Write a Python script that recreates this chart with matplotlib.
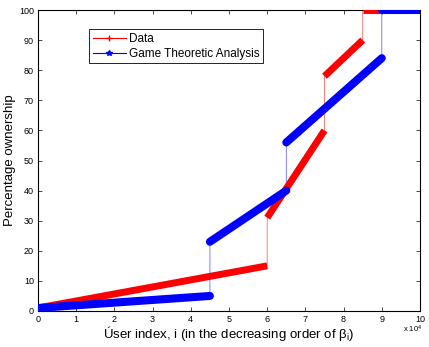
import matplotlib
matplotlib.use("Agg")
import matplotlib.pyplot as plt

plt.rcParams['font.family'] = ['Liberation Sans', 'DejaVu Sans']
plt.rcParams['mathtext.fontset'] = 'custom'
plt.rcParams['mathtext.rm'] = 'Liberation Sans'
plt.rcParams['mathtext.it'] = 'Liberation Sans'

# breakpoints of the piecewise-linear curves (x = user index, y = % ownership)
data_x = [0, 60000, 60000, 75000, 75000, 85000, 85000, 100000]
data_y = [1, 15, 31, 60, 78, 90, 100, 100]

game_x = [0, 45000, 45000, 65000, 65000, 90000, 90000, 100000]
game_y = [1, 5, 23, 40, 56, 84, 100, 100]

x_ticks = [0, 1, 2, 3, 4, 5, 6, 7, 8, 9, 10]
y_ticks = [0, 10, 20, 30, 40, 50, 60, 70, 80, 90, 100]

fig = plt.figure(figsize=(4.29, 3.47), dpi=100)
ax = fig.add_axes([38 / 429, 36 / 347, 382 / 429, 301 / 347])

red = '#ff0000'
blue = '#0000ff'

# thin connectors (the jumps)
ax.plot(data_x, data_y, color=red, lw=0.6, alpha=0.6, zorder=2)
ax.plot(game_x, game_y, color=blue, lw=0.6, alpha=0.6, zorder=2)

# thick bands where markers sit densely
for i in range(0, len(data_x), 2):
    ax.plot(data_x[i:i + 2], data_y[i:i + 2], color=red, lw=5, solid_capstyle='butt', zorder=3)
for i in range(0, len(game_x), 2):
    ax.plot(game_x[i:i + 2], game_y[i:i + 2], color=blue, lw=5.8, solid_capstyle='round', zorder=4)

# legend handles
ax.plot([], [], color=red, lw=0.8, marker='+', ms=5, label='Data')
ax.plot([], [], color=blue, lw=0.8, marker='*', ms=4, label='Game Theoretic Analysis')

ax.set_xlim(0, 100000)
ax.set_ylim(0, 100)
ax.set_xticks([t * 10000 for t in x_ticks])
ax.set_xticklabels([str(t) for t in x_ticks])
ax.set_yticks(y_ticks)
ax.tick_params(direction='in', top=True, right=True, labelsize=6.5, length=3, width=0.5, pad=3)
for s in ax.spines.values():
    s.set_linewidth(0.8)

ax.text(1.005, -0.06, r'x 10$^4$', transform=ax.transAxes, ha='right', va='center', fontsize=5.5)

ax.set_ylabel('Percentage ownership', fontsize=9.5, labelpad=2)
ax.set_xlabel(r'Úser index, i (in the decreasing order of $\beta_i$)', fontsize=9.5, labelpad=0)

leg = ax.legend(loc='upper left', bbox_to_anchor=(0.118, 0.955), fontsize=8.5, fancybox=False,
                edgecolor='black', framealpha=1, handlelength=2.8, borderpad=0.3,
                labelspacing=0.25, handletextpad=0.3)
leg.get_frame().set_linewidth(0.6)

fig.savefig('out.png', dpi=100)
